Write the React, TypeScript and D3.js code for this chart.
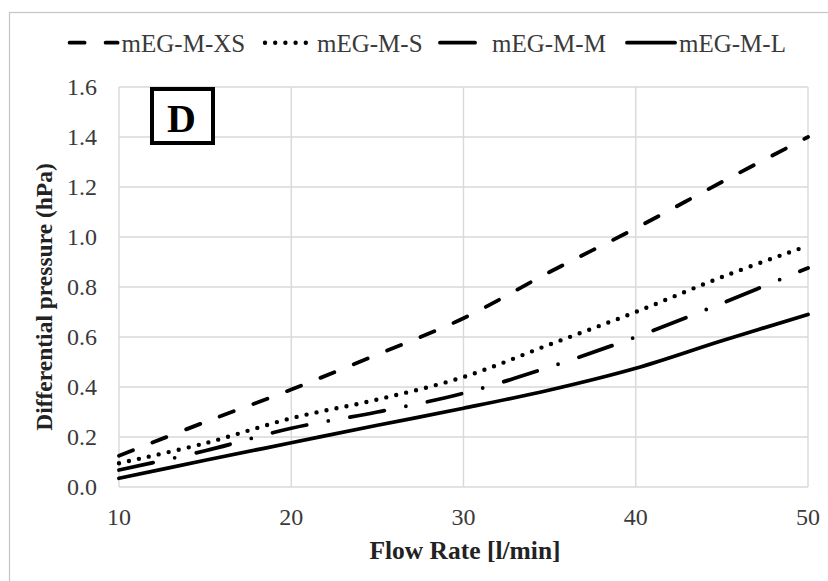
import React from "react";
import * as d3 from "d3";

const flowRate = [10, 15, 20, 25, 30, 35, 40, 45, 50];
const seriesXS = [0.125, 0.26, 0.39, 0.53, 0.675, 0.86, 1.035, 1.22, 1.4];
const seriesS = [0.095, 0.175, 0.275, 0.35, 0.44, 0.57, 0.7, 0.84, 0.965];
const seriesM = [0.068, 0.145, 0.235, 0.3, 0.375, 0.48, 0.6, 0.735, 0.876];
const seriesL = [0.035, 0.107, 0.177, 0.247, 0.315, 0.388, 0.475, 0.585, 0.69];
const seriesNames = ["mEG-M-XS", "mEG-M-S", "mEG-M-M", "mEG-M-L"];
const xTicks = [10, 20, 30, 40, 50];
const yTicks = [0, 0.2, 0.4, 0.6, 0.8, 1.0, 1.2, 1.4, 1.6];
const xTitle = "Flow Rate [l/min]";
const yTitle = "Differential pressure (hPa)";
const panelLabel = "D";

const W = 828;
const H = 581;
const M = { left: 119, right: 20, top: 87, bottom: 94 };
const FONT = "'Liberation Serif', 'Times New Roman', 'DejaVu Serif', serif";
const tStyle = { fontFamily: FONT };

const styles = [
  { dash: "15,21", width: 3.8 },
  { dash: "0,10.2", width: 4.4 },
  { dash: "35,22,0,22", width: 3.8 },
  { dash: null as string | null, width: 3.8 },
];

export default function App() {
  const x = d3.scaleLinear().domain([10, 50]).range([M.left, W - M.right]);
  const y = d3.scaleLinear().domain([0, 1.6]).range([H - M.bottom, M.top]);
  const allSeries = [seriesXS, seriesS, seriesM, seriesL];
  const line = d3
    .line<number>()
    .x((_, i) => x(flowRate[i]))
    .y((d) => y(d))
    .curve(d3.curveCatmullRom.alpha(0.5));

  const legendX = [69.6, 265, 440, 627];
  const legendY = 42.7;

  return (
    <svg
      width={W}
      height={H}
      style={{ position: "absolute", left: 0, top: 0, background: "#fff", fontFamily: FONT }}
    >
      <rect x={0} y={0} width={W} height={H} fill="#fff" />
      <rect x={9.5} y={12.5} width={W + 20} height={H + 20} fill="none" stroke="#c4c4c4" strokeWidth={1.2} />

      {/* grid */}
      {yTicks.map((t) => (
        <line key={"gy" + t} x1={M.left} x2={W - M.right} y1={y(t)} y2={y(t)} stroke="#d9d9d9" strokeWidth={1.4} />
      ))}
      {xTicks.map((t) => (
        <line key={"gx" + t} x1={x(t)} x2={x(t)} y1={M.top} y2={H - M.bottom} stroke="#d9d9d9" strokeWidth={1.4} />
      ))}

      {/* tick labels */}
      {yTicks.map((t) => (
        <text key={"ty" + t} x={97} y={y(t) + 8} textAnchor="end" fontSize={24} fill="#3a3a3a" style={tStyle}>
          {d3.format(".1f")(t)}
        </text>
      ))}
      {xTicks.map((t) => (
        <text key={"tx" + t} x={x(t)} y={525} textAnchor="middle" fontSize={24} fill="#3a3a3a" style={tStyle}>
          {t}
        </text>
      ))}

      {/* titles */}
      <text x={465} y={559} textAnchor="middle" fontSize={25.5} fontWeight="bold" fill="#222" style={tStyle}>
        {xTitle}
      </text>
      <text
        transform={`translate(52,297) rotate(-90)`}
        textAnchor="middle"
        fontSize={23.5}
        fontWeight="bold"
        fill="#222"
        style={tStyle}
      >
        {yTitle}
      </text>

      {/* series */}
      {allSeries.map((s, i) => (
        <path
          key={"s" + i}
          d={line(s) || ""}
          fill="none"
          stroke="#000"
          strokeWidth={styles[i].width}
          strokeDasharray={styles[i].dash || undefined}
          strokeLinecap="round"
          strokeLinejoin="round"
        />
      ))}

      {/* panel label */}
      <rect x={152} y={89} width={61} height={54} fill="#fff" stroke="#000" strokeWidth={4} />
      <text x={181.5} y={131.5} textAnchor="middle" fontSize={40} fontWeight="bold" fill="#000" style={tStyle}>
        {panelLabel}
      </text>

      {/* legend */}
      {seriesNames.map((n, i) => (
        <g key={"lg" + i}>
          <line
            x1={legendX[i]}
            x2={legendX[i] + 48}
            y1={legendY}
            y2={legendY}
            stroke="#000"
            strokeWidth={styles[i].width}
            strokeDasharray={styles[i].dash || undefined}
            strokeLinecap="round"
          />
          <text x={legendX[i] + 52} y={51.7} fontSize={25} fill="#3a3a3a" style={tStyle}>
            {n}
          </text>
        </g>
      ))}
    </svg>
  );
}
